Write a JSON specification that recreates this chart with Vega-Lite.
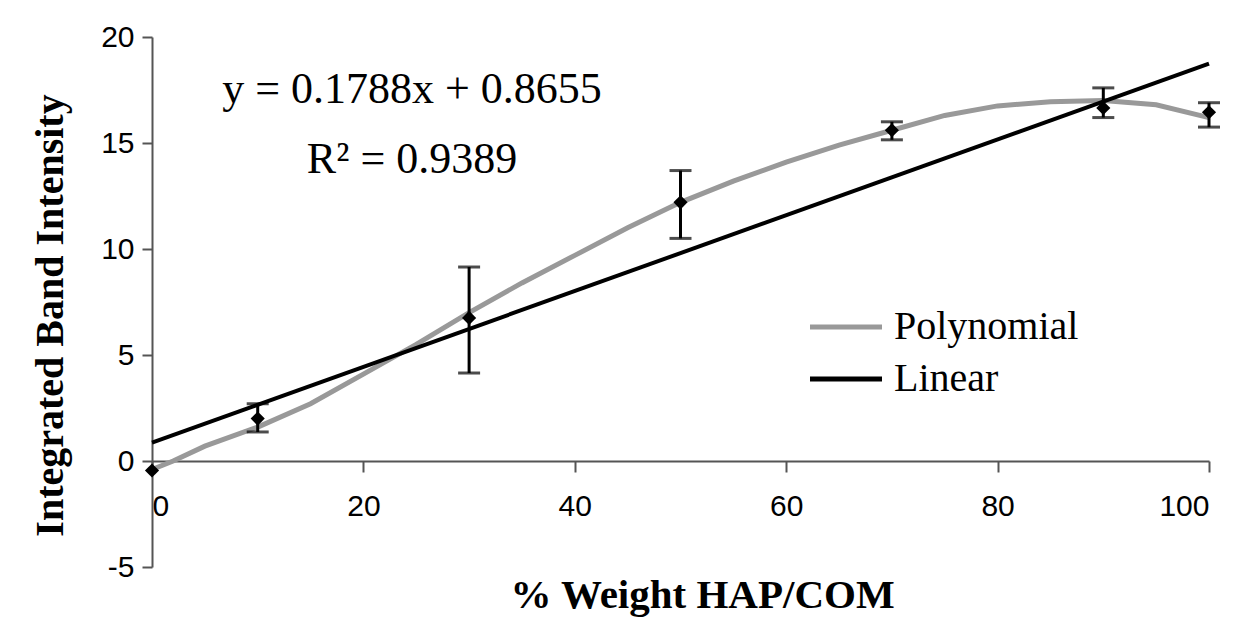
{
  "$schema": "https://vega.github.io/schema/vega-lite/v6.json",
  "width": 1057,
  "height": 530,
  "autosize": "none",
  "padding": {"left": 152, "top": 37, "right": 38, "bottom": 56},
  "background": "white",
  "config": {"view": {"stroke": null}},
  "datasets": {
    "pts": [
      {"x": 0, "y": -0.45},
      {"x": 10, "y": 2.0},
      {"x": 30, "y": 6.75},
      {"x": 50, "y": 12.2},
      {"x": 70, "y": 15.6},
      {"x": 90, "y": 16.65},
      {"x": 100, "y": 16.45}
    ],
    "err": [
      {"x": 10, "lo": 1.37, "hi": 2.7},
      {"x": 30, "lo": 4.15, "hi": 9.15},
      {"x": 50, "lo": 10.5, "hi": 13.7},
      {"x": 70, "lo": 15.15, "hi": 16.0},
      {"x": 90, "lo": 16.2, "hi": 17.6},
      {"x": 100, "lo": 15.75, "hi": 16.9}
    ],
    "poly": [
      {"x": 0, "y": -0.4, "series": "Polynomial"},
      {"x": 2, "y": 0.0, "series": "Polynomial"},
      {"x": 5, "y": 0.7, "series": "Polynomial"},
      {"x": 10, "y": 1.6, "series": "Polynomial"},
      {"x": 15, "y": 2.7, "series": "Polynomial"},
      {"x": 20, "y": 4.1, "series": "Polynomial"},
      {"x": 25, "y": 5.5, "series": "Polynomial"},
      {"x": 30, "y": 7.0, "series": "Polynomial"},
      {"x": 35, "y": 8.4, "series": "Polynomial"},
      {"x": 40, "y": 9.7, "series": "Polynomial"},
      {"x": 45, "y": 11.0, "series": "Polynomial"},
      {"x": 50, "y": 12.2, "series": "Polynomial"},
      {"x": 55, "y": 13.2, "series": "Polynomial"},
      {"x": 60, "y": 14.1, "series": "Polynomial"},
      {"x": 65, "y": 14.9, "series": "Polynomial"},
      {"x": 70, "y": 15.6, "series": "Polynomial"},
      {"x": 75, "y": 16.3, "series": "Polynomial"},
      {"x": 80, "y": 16.75, "series": "Polynomial"},
      {"x": 85, "y": 16.95, "series": "Polynomial"},
      {"x": 90, "y": 17.0, "series": "Polynomial"},
      {"x": 95, "y": 16.8, "series": "Polynomial"},
      {"x": 100, "y": 16.2, "series": "Polynomial"}
    ],
    "lin": [
      {"x": 0, "y": 0.8655, "series": "Linear"},
      {"x": 100, "y": 18.7455, "series": "Linear"}
    ],
    "eq": [
      {"x": 24.6, "y": 16.89, "label": "y = 0.1788x + 0.8655"},
      {"x": 24.6, "y": 13.58, "label": "R² = 0.9389"}
    ]
  },
  "encoding": {
    "x": {
      "field": "x",
      "type": "quantitative",
      "scale": {"domain": [0, 100], "nice": false},
      "axis": {
        "values": [0, 20, 40, 60, 80, 100],
        "offset": -106,
        "grid": false,
        "domainColor": "#555555",
        "domainWidth": 2,
        "tickColor": "#555555",
        "tickWidth": 2,
        "tickSize": 11,
        "labelFont": "Liberation Sans",
        "labelFontSize": 30,
        "labelColor": "black",
        "labelPadding": 19,
        "title": "% Weight HAP/COM",
        "titleFont": "Liberation Serif",
        "titleFontWeight": "bold",
        "titleFontSize": 41,
        "titleColor": "black",
        "titleX": 550,
        "titleY": 146,
        "titleAlign": "center",
        "titleBaseline": "alphabetic"
      }
    },
    "y": {
      "field": "y",
      "type": "quantitative",
      "scale": {"domain": [-5, 20], "nice": false},
      "axis": {
        "values": [-5, 0, 5, 10, 15, 20],
        "labelExpr": "'' + datum.value",
        "grid": false,
        "domainColor": "#555555",
        "domainWidth": 2,
        "tickColor": "#555555",
        "tickWidth": 2,
        "tickSize": 10,
        "labelFont": "Liberation Sans",
        "labelFontSize": 30,
        "labelColor": "black",
        "labelPadding": 8,
        "title": "Integrated Band Intensity",
        "titleFont": "Liberation Serif",
        "titleFontWeight": "bold",
        "titleFontSize": 40,
        "titleColor": "black",
        "titleX": -102,
        "titleY": 278,
        "titleAngle": -90,
        "titleAlign": "center",
        "titleBaseline": "middle"
      }
    }
  },
  "layer": [
    {
      "data": {"name": "poly"},
      "mark": {"type": "line", "strokeWidth": 5},
      "encoding": {
        "color": {
          "field": "series",
          "type": "nominal",
          "scale": {"domain": ["Polynomial", "Linear"], "range": ["#999999", "#000000"]},
          "legend": {
            "orient": "none",
            "legendX": 674,
            "legendY": 270,
            "title": null,
            "symbolType": "M-2.4,0H2.4",
            "symbolSize": 900,
            "symbolStrokeWidth": 5,
            "labelFont": "Liberation Serif",
            "labelFontSize": 40,
            "labelColor": "black",
            "labelLimit": 0,
            "labelOffset": 28,
            "rowPadding": 12,
            "padding": 0
          }
        }
      }
    },
    {
      "data": {"name": "lin"},
      "mark": {"type": "line", "strokeWidth": 4},
      "encoding": {
        "color": {"field": "series", "type": "nominal"}
      }
    },
    {
      "data": {"name": "err"},
      "mark": {"type": "errorbar", "ticks": true, "size": 22, "thickness": 3, "color": "black"},
      "encoding": {
        "y": {"field": "lo", "type": "quantitative"},
        "y2": {"field": "hi"}
      }
    },
    {
      "data": {"name": "pts"},
      "mark": {"type": "point", "shape": "diamond", "filled": true, "size": 200, "color": "black", "opacity": 1}
    },
    {
      "data": {"name": "eq"},
      "mark": {"type": "text", "font": "Liberation Serif", "fontSize": 44, "align": "center", "baseline": "alphabetic", "color": "black"},
      "encoding": {
        "text": {"field": "label", "type": "nominal"}
      }
    }
  ]
}
